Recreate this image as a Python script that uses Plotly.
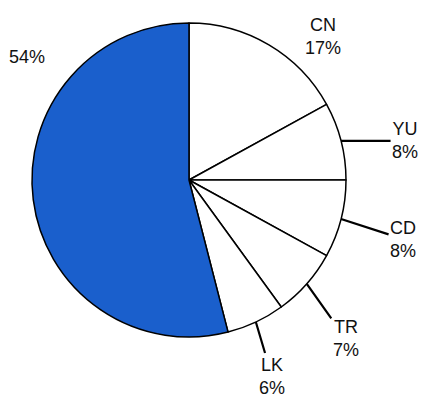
import math
import plotly.graph_objects as go

# data
labels = ["CN", "YU", "CD", "TR", "LK", ""]
values = [17, 8, 8, 7, 6, 54]
colors = ["white", "white", "white", "white", "white", "#1a5fcc"]

# label offsets (pixels) from the slice's outer midpoint
label_dx = [54, 64, 62, 39, 16, -6]
label_dy = [-8, 0, 20, 55, 54, -143]
leader = [False, True, True, True, True, False]

# page body adds an 8px margin, so the figure is drawn 8px smaller and shifted
OFF = 8
W, H = 430 - OFF, 405 - OFF
cx, cy, r = 189 - OFF, 180 - OFF, 157  # pie centre and radius in pixels

fig = go.Figure(go.Pie(
    labels=labels, values=values, sort=False, direction="clockwise",
    marker=dict(colors=colors, line=dict(color="black", width=1.5)),
    textinfo="none", hoverinfo="skip", showlegend=False,
    domain=dict(x=[(cx - r) / W, (cx + r) / W], y=[1 - (cy + r) / H, 1 - (cy - r) / H]),
))

total = sum(values)
cum = 0
for lab, v, dx, dy, ld in zip(labels, values, label_dx, label_dy, leader):
    mid = (cum + v / 2) / total * 2 * math.pi
    cum += v
    px = cx + r * math.sin(mid)
    py = cy - r * math.cos(mid)
    txt = f"{lab}<br>{v}%" if lab else f"{v}%"
    fig.add_annotation(
        x=px / W, y=1 - py / H, xref="paper", yref="paper",
        text=txt, showarrow=True, ax=dx, ay=dy,
        arrowhead=0, arrowwidth=2.2 if ld else 0.1,
        arrowcolor="black" if ld else "rgba(0,0,0,0)",
        font=dict(family="Liberation Sans, Arial", size=18, color="#111"),
    )

fig.update_layout(
    width=W, height=H, margin=dict(l=0, r=0, t=0, b=0),
    paper_bgcolor="white", plot_bgcolor="white",
)
fig.write_html("out.html")
